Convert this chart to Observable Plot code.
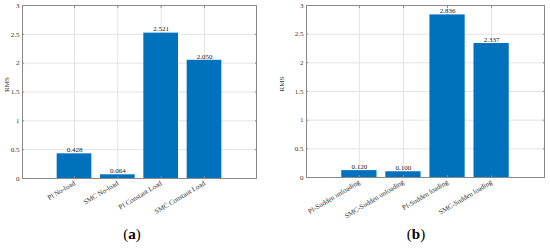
<!DOCTYPE html>
<html>
<head>
<meta charset="utf-8">
<script src="https://cdn.jsdelivr.net/npm/d3@7"></script>
<script src="https://cdn.jsdelivr.net/npm/@observablehq/plot@0.6"></script>
<style>
  html, body { margin: 0; padding: 0; background: #fff; }
  #wrap { position: relative; width: 550px; height: 248px; overflow: hidden; font-family: "Liberation Serif", serif; }
  .panel { position: absolute; top: 0; }
  .cap { position: absolute; top: 226px; width: 60px; text-align: center; font-size: 15px; color: #000; font-family: "Liberation Serif", serif; }
  .cap b { font-weight: bold; }
</style>
</head>
<body>
<div id="wrap">
  <div class="panel" id="pa" style="left:0px"></div>
  <div class="panel" id="pb" style="left:275px"></div>
  <div class="cap" style="left:102px">(<b>a</b>)</div>
  <div class="cap" style="left:386px">(<b>b</b>)</div>
</div>
<script>
const categoriesA = ["PI No-load", "SMC No-load", "PI Constant Load", "SMC Constant Load"];
const valuesA = [0.428, 0.064, 2.521, 2.050];
const categoriesB = ["PI-Sudden unloading", "SMC-Sudden unloading", "PI-Sudden loading", "SMC-Sudden loading"];
const valuesB = [0.120, 0.100, 2.836, 2.337];
const yTicks = [0, 0.5, 1, 1.5, 2, 2.5, 3];
const yTickLabels = ["0", "0.5", "1", "1.5", "2", "2.5", "3"];
const yLabel = "RMS";

function panel(categories, values, opts) {
  const data = categories.map((c, i) => ({pos: i + 1, cat: c, v: values[i]}));
  const xTicks = data.map(d => d.pos);
  return Plot.plot({
    width: 275,
    height: 220,
    marginLeft: opts.ml,
    marginRight: opts.mr,
    marginTop: 5,
    marginBottom: opts.mb,
    style: {fontFamily: "Liberation Serif, serif", fontSize: "7px", color: "#333", background: "#fff"},
    x: {type: "linear", domain: [-0.2, 5.2]},
    y: {domain: [0, 3]},
    marks: [
      Plot.gridY(yTicks, {stroke: "#e3e3e3", strokeOpacity: 1}),
      Plot.gridX(xTicks, {stroke: "#e3e3e3", strokeOpacity: 1}),
      Plot.rectY(data, {x1: d => d.pos - 0.4, x2: d => d.pos + 0.4, y1: 0, y2: "v", fill: "#0072BD"}),
      Plot.text(data, {x: "pos", y: "v", text: d => d.v.toFixed(3), dy: -4, fill: "#222", fontSize: 7}),
      Plot.frame({stroke: "#8a8a8a"}),
      Plot.axisY(yTicks, {anchor: "left", tickSize: 0, tickPadding: 3, tickFormat: (d, i) => yTickLabels[i], label: null, fill: "#333"}),
      Plot.axisY(yTicks, {anchor: "left", tickSize: -2, text: null, label: null, stroke: "#8a8a8a"}),
      Plot.axisY(yTicks, {anchor: "right", tickSize: -2, text: null, label: null, stroke: "#8a8a8a"}),
      Plot.axisX(xTicks, {anchor: "bottom", tickSize: -2, text: null, label: null, stroke: "#8a8a8a"}),
      Plot.axisX(xTicks, {anchor: "top", tickSize: -2, text: null, label: null, stroke: "#8a8a8a"}),
      Plot.axisX(xTicks, {anchor: "bottom", tickSize: 0, tickPadding: 4, tickRotate: -31, tickFormat: (d, i) => categories[i], label: null, fill: "#333"}),
      Plot.text([yLabel], {frameAnchor: "left", text: d => d, rotate: -90, dx: -opts.ml + 6, fill: "#333", fontSize: 7})
    ]
  });
}

document.getElementById("pa").appendChild(panel(categoriesA, valuesA, {ml: 22, mr: 19, mb: 42}));
document.getElementById("pb").appendChild(panel(categoriesB, valuesB, {ml: 31, mr: 6, mb: 43}));
</script>
</body>
</html>
